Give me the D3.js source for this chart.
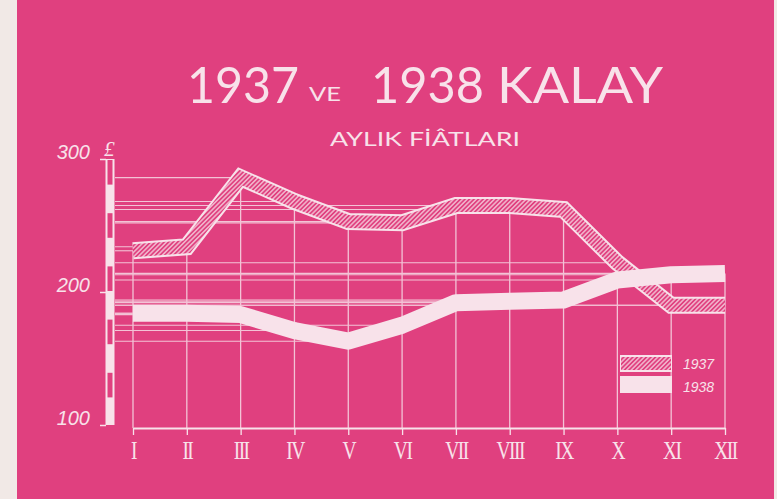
<!DOCTYPE html>
<html><head><meta charset="utf-8">
<script src="https://cdnjs.cloudflare.com/ajax/libs/d3/7.8.5/d3.min.js"></script>
<style>
html,body{margin:0;padding:0;background:#f1e9e6;}
svg{display:block;}
</style></head>
<body><svg id="c" width="777" height="499"></svg>
<script>
// ---- data ----
const months = ["I","II","III","IV","V","VI","VII","VIII","IX","X","XI","XII"];
const tin1937 = [231,234,286,268,253,252,265,265,262,222,190,190];
const tin1938 = [184,184,183,171,163,175,192,193,194,209,213,214];
const yTicks = [100,200,300];
const scaleBlocks = [120,160,200,240,280]; // start of each 20-unit dark block on the scale bar
const seriesNames = ["1937","1938"];

const PINK = "#e0407f", LIGHT = "#f8e2ea", LINE = "#f3c3d6";
const svg = d3.select("#c");

// hatch pattern
const defs = svg.append("defs");
const pat = defs.append("pattern").attr("id","hatch").attr("patternUnits","userSpaceOnUse")
  .attr("width",3.2).attr("height",3.2).attr("patternTransform","rotate(45)");
pat.append("rect").attr("width",3.2).attr("height",3.2).attr("fill",PINK);
pat.append("line").attr("x1",0.8).attr("y1",0).attr("x2",0.8).attr("y2",3.2)
  .attr("stroke",LIGHT).attr("stroke-width",1.1);

// background
svg.append("rect").attr("x",17).attr("y",0).attr("width",757).attr("height",499).attr("fill",PINK);

// scales
const x = d3.scalePoint().domain(months).range([133,725]);
const y = d3.scaleLinear().domain([100,300]).range([425,159]);
const axisX = 110, baseY = 428;

// titles
function t(txt, xx, yy, size, len){
  return svg.append("text").attr("x",xx).attr("y",yy).attr("fill",LIGHT)
    .attr("font-family","Lato, 'Open Sans', sans-serif").attr("font-size",size)
    .attr("textLength",len).attr("lengthAdjust","spacingAndGlyphs").text(txt);
}
t("1937",187,103,50,112);
t("VE",309,101,19,32);
t("1938",371,103,50,113);
t("KALAY",497,103,50,166);
t("AYLIK FİÂTLARI",330,146,20,190);

// guide lines (horizontal) from axis to each point
const guides = svg.append("g");
[tin1937, tin1938].forEach(arr => {
  arr.forEach((v,i) => {
    guides.append("line").attr("x1",axisX+5).attr("x2",x(months[i]))
      .attr("y1",y(v)).attr("y2",y(v)).attr("stroke",LINE).attr("stroke-width",1.1);
  });
});

// vertical lines up to the highest band
months.forEach((m,i) => {
  guides.append("line").attr("x1",x(m)).attr("x2",x(m)).attr("y1",baseY)
    .attr("y2",y(Math.max(tin1937[i],tin1938[i]))).attr("stroke",LINE).attr("stroke-width",1.3);
});

// x axis
const gx = svg.append("g").attr("transform",`translate(0,${baseY})`)
  .call(d3.axisBottom(x).tickSize(7).tickSizeOuter(0).tickPadding(5));
gx.select(".domain").attr("stroke",LIGHT).attr("stroke-width",2.2);
gx.selectAll(".tick line").attr("stroke",LIGHT).attr("stroke-width",1.3);
gx.selectAll(".tick text").attr("fill",LIGHT).attr("font-family","'Liberation Serif', serif")
  .attr("font-size",25).attr("letter-spacing",-2).attr("transform","scale(0.78,1)").attr("dy","0.78em");

// y scale bar
const bar = svg.append("g");
bar.append("rect").attr("x",axisX-4.5).attr("y",y(300)).attr("width",9).attr("height",y(100)-y(300))
  .attr("fill",LIGHT);
scaleBlocks.forEach(s => {
  bar.append("rect").attr("x",axisX-2.5).attr("y",y(s+20)+1).attr("width",5)
    .attr("height",y(s)-y(s+20)-2).attr("fill",PINK);
});
const gy = svg.append("g").attr("transform",`translate(${axisX-4},0)`)
  .call(d3.axisLeft(y).tickValues(yTicks).tickSize(6).tickPadding(10));
gy.select(".domain").remove();
gy.selectAll(".tick line").attr("stroke",LIGHT).attr("stroke-width",1.5);
gy.selectAll(".tick text").attr("fill",LIGHT).attr("font-family","'Liberation Sans', sans-serif")
  .attr("font-style","italic").attr("font-size",20).attr("dy","-0.05em");
svg.append("text").attr("x",axisX-6).attr("y",y(300)-3).attr("fill",LIGHT)
  .attr("font-family","'Liberation Serif', serif").attr("font-style","italic").attr("font-size",21).text("£");

// bands
const line = d3.line().x((d,i)=>x(months[i])).y(d=>y(d));
svg.append("path").attr("d",line(tin1937)).attr("fill","none").attr("stroke",LIGHT)
  .attr("stroke-width",17).attr("stroke-linejoin","miter").attr("stroke-miterlimit",3);
svg.append("path").attr("d",line(tin1937)).attr("fill","none").attr("stroke","url(#hatch)")
  .attr("stroke-width",13).attr("stroke-linejoin","miter").attr("stroke-miterlimit",3);
svg.append("path").attr("d",line(tin1938)).attr("fill","none").attr("stroke",LIGHT)
  .attr("stroke-width",17).attr("stroke-linejoin","round");

// legend
const lg = svg.append("g");
lg.append("rect").attr("x",620).attr("y",355).attr("width",52).attr("height",17).attr("fill",LIGHT);
lg.append("rect").attr("x",621).attr("y",357).attr("width",50).attr("height",13).attr("fill","url(#hatch)");
lg.append("rect").attr("x",620).attr("y",376).attr("width",52).attr("height",17).attr("fill",LIGHT);
seriesNames.forEach((n,i) => {
  lg.append("text").attr("x",683).attr("y",369+i*23).attr("fill",LIGHT)
    .attr("font-family","'Liberation Sans', sans-serif").attr("font-style","italic").attr("font-size",14).text(n);
});
</script></body></html>
